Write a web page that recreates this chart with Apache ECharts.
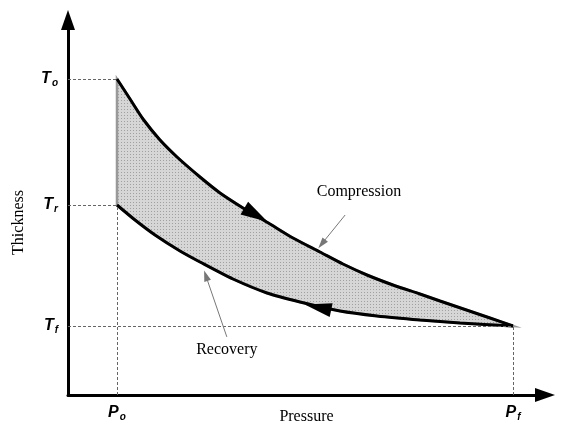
<!DOCTYPE html>
<html>
<head>
<meta charset="utf-8">
<script src="https://cdn.jsdelivr.net/npm/echarts@6/dist/echarts.min.js"></script>
<style>html,body{margin:0;padding:0;background:#fff;}#c{width:561px;height:430px;}</style>
</head>
<body>
<div id="c"></div>
<script>
// ---- data ----
const Po = 10.27, Pf = 93.29;             // pressure marks
const To = 84.27, Tr = 50.67, Tf = 18.4;  // thickness marks
const xTickValues = [Po, Pf];
const xTickSubs = ['o', 'f'];
const yTickValues = [To, Tr, Tf];
const yTickSubs = ['o', 'r', 'f'];
const compressionX = [10.27, 13.00, 15.72, 19.29, 22.85, 27.67, 31.87, 36.69, 42.35, 47.17, 52.83, 57.65, 62.68, 68.13, 73.79, 77.99, 88.47, 93.29];
const compressionY = [84.27, 78.93, 73.60, 68.00, 63.47, 58.13, 53.87, 49.87, 45.60, 41.87, 38.13, 34.93, 32.00, 29.33, 26.93, 25.07, 20.53, 18.40];
const recoveryX = [10.27, 14.05, 18.24, 23.48, 27.67, 34.59, 41.72, 48.64, 57.02, 64.78, 73.79, 82.18, 93.29];
const recoveryY = [50.67, 46.67, 42.67, 38.40, 35.47, 30.93, 27.20, 24.80, 22.40, 21.07, 20.00, 19.20, 18.40];
const arrowCompression = [39.4, 48.0];
const arrowRecovery = [52.4, 23.4];
const labelNames = ['Compression', 'Recovery'];
const labelAnchors = [[61.0, 54.1], [33.3, 12.0]];
const leaderStarts = [[58.1, 48.0], [33.3, 15.5]];
const leaderEnds = [[53.2, 40.3], [28.9, 31.8]];

const compression = compressionX.map((x, i) => [x, compressionY[i]]);
const recovery = recoveryX.map((x, i) => [x, recoveryY[i]]);
const fillPoly = compression.concat(recovery.slice().reverse());

// dotted fill pattern
const pc = document.createElement('canvas');
pc.width = 3; pc.height = 3;
const pctx = pc.getContext('2d');
pctx.fillStyle = '#d6d6d6'; pctx.fillRect(0, 0, 3, 3);
pctx.fillStyle = '#a0a0a0'; pctx.fillRect(1, 1, 1, 1);

const chart = echarts.init(document.getElementById('c'), null, {renderer: 'canvas'});
const tickRich = {
  b: {fontFamily: 'Liberation Sans', fontStyle: 'italic', fontWeight: 'bold', fontSize: 16, color: '#000', lineHeight: 18},
  s: {fontFamily: 'Liberation Sans', fontStyle: 'italic', fontWeight: 'bold', fontSize: 10, color: '#000', padding: [8, 0, 0, 1]}
};
function tickFmt(vals, subs, base) {
  return function (v) {
    let k = 0, best = Infinity;
    vals.forEach((t, i) => { const d = Math.abs(t - v); if (d < best) { best = d; k = i; } });
    return '{b|' + base + '}{s|' + subs[k] + '}';
  };
}
const guide = {type: [3, 2], color: '#666', width: 1};
const serif = 'Liberation Serif';

chart.setOption({
  animation: false,
  grid: {left: 68, right: 16, top: 20, bottom: 35, containLabel: false, outerBoundsMode: 'none'},
  xAxis: {
    type: 'value', min: 0, max: 100,
    name: 'Pressure', nameLocation: 'middle', nameGap: 14, nameMoveOverlap: false,
    nameTextStyle: {fontFamily: serif, fontSize: 16, color: '#000'},
    axisLine: {show: true, onZero: false, symbol: ['none', 'triangle'], symbolSize: [14, 20], lineStyle: {color: '#000', width: 3}},
    axisTick: {show: false}, splitLine: {show: false},
    axisLabel: {customValues: xTickValues, formatter: tickFmt(xTickValues, xTickSubs, 'P'), rich: tickRich, margin: 9}
  },
  yAxis: {
    type: 'value', min: 0, max: 100,
    name: 'Thickness', nameLocation: 'middle', nameGap: 41, nameRotate: 90, nameMoveOverlap: false,
    nameTextStyle: {fontFamily: serif, fontSize: 16, color: '#000', padding: [0, 30, 0, 0]},
    axisLine: {show: true, onZero: false, symbol: ['none', 'triangle'], symbolSize: [14, 20], lineStyle: {color: '#000', width: 3}},
    axisTick: {show: false}, splitLine: {show: false},
    axisLabel: {customValues: yTickValues, formatter: tickFmt(yTickValues, yTickSubs, 'T'), rich: tickRich, margin: 10}
  },
  series: [
    {
      type: 'custom', z: 1, silent: true,
      data: [[Po, To]],
      renderItem: function (params, api) {
        const pts = fillPoly.map(p => api.coord(p));
        return {type: 'polygon', shape: {points: pts}, style: {fill: {image: pc, repeat: 'repeat'}, stroke: '#999', lineWidth: 2.5}};
      },
      markLine: {
        silent: true, symbol: 'none', label: {show: false}, lineStyle: guide,
        data: [
          [{coord: [0, To]}, {coord: [Po, To]}],
          [{coord: [0, Tr]}, {coord: [Po, Tr]}],
          [{coord: [0, Tf]}, {coord: [Pf, Tf]}],
          [{coord: [Po, 0]}, {coord: [Po, Tr]}],
          [{coord: [Pf, 0]}, {coord: [Pf, Tf]}]
        ]
      }
    },
    {
      name: 'Compression', type: 'line', data: compression, smooth: 0.25, showSymbol: false, z: 3,
      lineStyle: {color: '#000', width: 3}
    },
    {
      name: 'Recovery', type: 'line', data: recovery, smooth: 0.25, showSymbol: false, z: 3,
      lineStyle: {color: '#000', width: 3}
    },
    {
      type: 'scatter', z: 4, symbol: 'triangle', symbolSize: [15, 27], symbolRotate: -120.5, silent: true,
      itemStyle: {color: '#000', opacity: 1}, data: [arrowCompression]
    },
    {
      type: 'scatter', z: 4, symbol: 'triangle', symbolSize: [14, 27], symbolRotate: 78, silent: true,
      itemStyle: {color: '#000', opacity: 1}, data: [arrowRecovery]
    },
    {
      type: 'scatter', z: 5, symbol: 'circle', symbolSize: 0, silent: true, itemStyle: {color: '#fff', opacity: 1},
      data: labelAnchors.map((p, i) => ({value: p, name: labelNames[i]})),
      label: {show: true, position: 'inside', formatter: '{b}', fontFamily: serif, fontSize: 16, color: '#000', opacity: 1},
      markLine: {
        silent: true, symbol: ['none', 'triangle'], symbolSize: [7, 11], label: {show: false},
        lineStyle: {color: '#777', width: 1, type: 'solid', opacity: 1},
        itemStyle: {color: '#555'},
        data: leaderStarts.map((s, i) => [{coord: s}, {coord: leaderEnds[i]}])
      }
    }
  ]
});
</script>
</body>
</html>
